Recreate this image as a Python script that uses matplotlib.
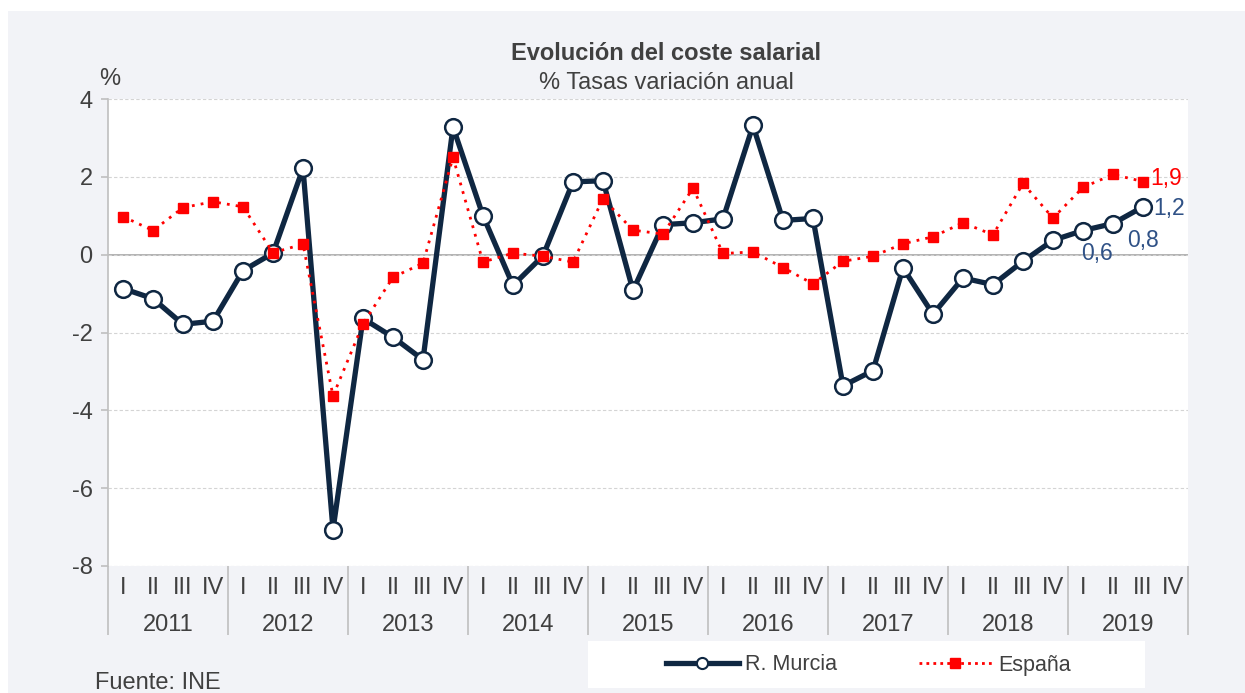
import matplotlib.pyplot as plt
from matplotlib.patches import Rectangle
from matplotlib.lines import Line2D

plt.rcParams["font.family"] = ["Liberation Sans", "DejaVu Sans"]

years = ["2011", "2012", "2013", "2014", "2015", "2016", "2017", "2018", "2019"]
quarters = ["I", "II", "III", "IV"]

murcia = [-0.87, -1.13, -1.79, -1.71,
          -0.41, 0.04, 2.22, -7.07,
          -1.64, -2.12, -2.70, 3.28,
          1.00, -0.79, -0.03, 1.87,
          1.90, -0.92, 0.77, 0.82,
          0.92, 3.32, 0.88, 0.93,
          -3.37, -2.98, -0.34, -1.53,
          -0.60, -0.77, -0.17, 0.37,
          0.62, 0.80, 1.23]
espana = [0.98, 0.62, 1.21, 1.36,
          1.23, 0.05, 0.27, -3.63,
          -1.78, -0.58, -0.22, 2.50,
          -0.19, 0.04, -0.04, -0.19,
          1.44, 0.63, 0.53, 1.71,
          0.03, 0.07, -0.33, -0.75,
          -0.17, -0.04, 0.28, 0.46,
          0.82, 0.51, 1.83, 0.94,
          1.73, 2.06, 1.88]

navy = "#0f2742"
red = "#ff0000"
label_blue = "#2f5186"
text_col = "#404040"
panel = "#f2f3f7"
fs = 17

fig = plt.figure(figsize=(12.45, 6.93), dpi=100)
fig.patch.set_facecolor("white")
fig.patches.append(Rectangle((8 / 1245, 0), 1, 1 - 11 / 693, transform=fig.transFigure,
                             facecolor=panel, edgecolor="none", zorder=-10))

ax = fig.add_axes([108 / 1245, 1 - 566 / 693, 1080 / 1245, 467 / 693])
ax.set_facecolor("white")

x_m = list(range(len(murcia)))
x_e = list(range(len(espana)))
ax.plot(x_m, murcia, color=navy, lw=3.8, marker="o", ms=12, mfc="white",
        mec=navy, mew=1.8, zorder=3, label="R. Murcia")
ax.plot(x_e, espana, color=red, lw=2, ls=(0, (1, 2.2)), marker="s", ms=7,
        mfc=red, mec=red, zorder=4, label="España")

ax.set_xlim(-0.5, 4 * len(years) - 0.5)
ax.set_ylim(-8, 4)
ax.set_yticks(range(-8, 5, 2))
ax.set_yticklabels([str(v) for v in range(-8, 5, 2)])
ax.grid(axis="y", color="#d4d4d4", ls=(0, (3, 2)), lw=0.8)
ax.axhline(0, color="#a6a6a6", lw=1.2, zorder=1)

for s in ["top", "right", "bottom"]:
    ax.spines[s].set_visible(False)
ax.spines["left"].set_color("#bfbfbf")
ax.spines["left"].set_linewidth(1.2)
ax.tick_params(axis="y", colors="#bfbfbf", labelcolor=text_col, labelsize=fs,
               length=5, width=1.2, pad=6)

ax.set_xticks(range(4 * len(years)))
ax.set_xticklabels(quarters * len(years))
ax.set_xticks([4 * k - 0.5 for k in range(len(years) + 1)], minor=True)
ax.tick_params(axis="x", which="major", length=0, labelsize=fs,
               labelcolor=text_col, pad=8)
ax.tick_params(axis="x", which="minor", length=50, width=1.2, color="#bfbfbf")
for k, yr in enumerate(years):
    ax.text(4 * k + 1.5, -0.126, yr, transform=ax.get_xaxis_transform(),
            ha="center", va="center", fontsize=fs, color=text_col)

# value labels at the end of the series
ax.text(34.25, espana[-1] + 0.08, "1,9", color=red, fontsize=16.5, va="center", ha="left")
ax.text(34.35, murcia[-1] - 0.05, "1,2", color=label_blue, fontsize=16.5, va="center", ha="left")
ax.text(32.45, 0.03, "0,6", color=label_blue, fontsize=16.5, va="center", ha="center")
ax.text(34.0, 0.37, "0,8", color=label_blue, fontsize=16.5, va="center", ha="center")

fig.text(666 / 1245, 1 - 53 / 693, "Evolución del coste salarial", ha="center",
         va="center", fontsize=fs, fontweight="bold", color=text_col)
fig.text(666 / 1245, 1 - 83 / 693, "% Tasas variación anual", ha="center",
         va="center", fontsize=fs, color=text_col)
fig.text(110 / 1245, 1 - 79 / 693, "%", ha="center", va="center",
         fontsize=fs, color=text_col)
fig.text(95 / 1245, 1 - 683 / 693, "Fuente: INE", ha="left", va="center",
         fontsize=fs, color=text_col)

# legend box
fig.patches.append(Rectangle((588 / 1245, 1 - 688 / 693), 557 / 1245, 47 / 693,
                             transform=fig.transFigure, facecolor="white",
                             edgecolor="none", zorder=-5))
handles = [Line2D([], [], color=navy, lw=3.8, marker="o", ms=8, mfc="white",
                  mec=navy, mew=1.5),
           Line2D([], [], color=red, lw=2, ls=(0, (1, 1.5)), marker="s", ms=7,
                  mfc=red, mec=red)]
fig.legend(handles, ["R. Murcia", "España"], loc="center",
           bbox_to_anchor=(868 / 1245, 1 - 665 / 693), ncol=2, frameon=False,
           fontsize=15.5, handlelength=3.4, handletextpad=0.28, columnspacing=3.8,
           labelcolor=text_col)

fig.savefig("out.png", dpi=100, facecolor=fig.get_facecolor())
